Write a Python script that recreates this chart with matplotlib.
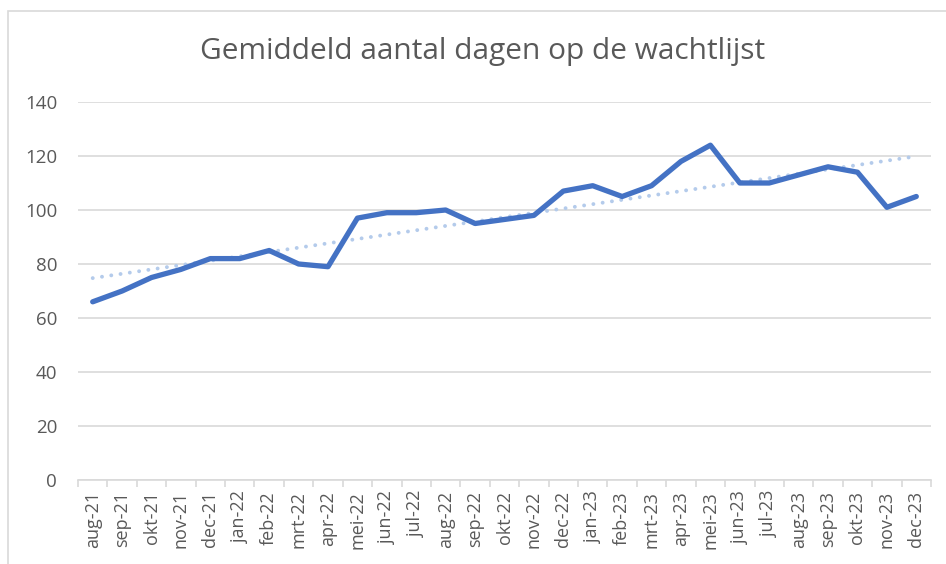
import numpy as np
import matplotlib
matplotlib.use("Agg")
import matplotlib.pyplot as plt
from matplotlib.patches import Rectangle

months = ["aug-21", "sep-21", "okt-21", "nov-21", "dec-21", "jan-22", "feb-22",
          "mrt-22", "apr-22", "mei-22", "jun-22", "jul-22", "aug-22", "sep-22",
          "okt-22", "nov-22", "dec-22", "jan-23", "feb-23", "mrt-23", "apr-23",
          "mei-23", "jun-23", "jul-23", "aug-23", "sep-23", "okt-23", "nov-23",
          "dec-23"]
dagen = [66, 70, 75, 78, 82, 82, 85, 80, 79, 97, 99, 99, 100, 95, 96.5, 98,
         107, 109, 105, 109, 118, 124, 110, 110, 113, 116, 114, 101, 105]

TXT = "#595959"
GRID = "#d9d9d9"
LINE = "#4472c4"
TREND = "#b4cbeb"

plt.rcParams["font.family"] = ["Open Sans", "DejaVu Sans"]

fig = plt.figure(figsize=(9.46, 5.64), dpi=100)
# chart area border (Excel style), cut off at right and bottom
fig.patches.append(Rectangle((8 / 946, -0.1), 1.2, 1.1 - 11 / 564, transform=fig.transFigure,
                             fill=False, edgecolor=GRID, lw=1.2))

ax = fig.add_axes([78 / 946, 84 / 564, (931 - 78) / 946, (480 - 102) / 564])
x = np.arange(len(months))

# linear trendline (round dots)
b, a = np.polyfit(x, dagen, 1)
ax.plot(x, a + b * x, color=TREND, lw=2.8, linestyle=(0, (0.01, 2.4)),
        dash_capstyle="round", zorder=2)
ax.plot(x, dagen, "-", color=LINE, lw=3.8, solid_capstyle="round", zorder=3)

ax.set_xlim(-0.5, len(months) - 0.5)
ax.set_ylim(0, 140)
ax.set_yticks(range(0, 141, 20))
ax.yaxis.grid(True, color=GRID, lw=1.2)
ax.set_axisbelow(True)
ax.tick_params(axis="y", length=0, pad=15, labelsize=13.5, labelcolor=TXT)

ax.set_xticks(x)
ax.set_xticklabels(months, rotation=90, fontsize=13, color=TXT)
ax.set_xticks(np.arange(-0.5, len(months), 1), minor=True)
ax.tick_params(axis="x", which="major", length=0, pad=8)
ax.tick_params(axis="x", which="minor", length=5, color=GRID, width=1.2)

for s in ["top", "right", "left"]:
    ax.spines[s].set_visible(False)
ax.spines["bottom"].set_color(GRID)
ax.spines["bottom"].set_linewidth(1.2)

fig.text(483 / 946, 1 - 52 / 564, "Gemiddeld aantal dagen op de wachtlijst",
         ha="center", va="center", fontsize=21.5, color=TXT)

fig.savefig("out.png", dpi=100)
